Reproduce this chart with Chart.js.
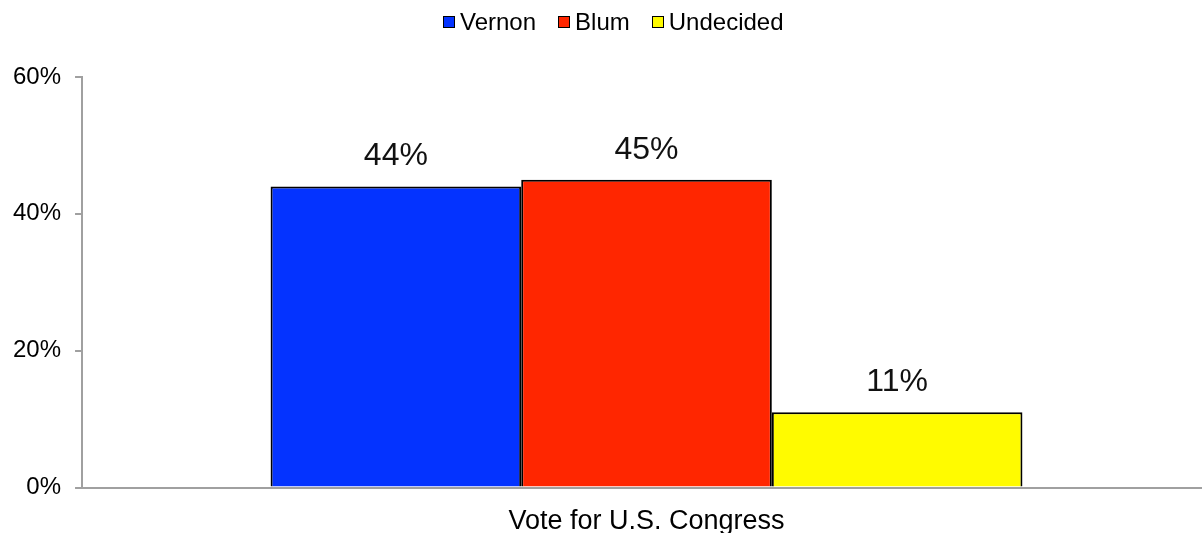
<!DOCTYPE html>
<html lang="en">
<head>
    <meta charset="UTF-8">
    <title>Vote for U.S. Congress</title>
    <script src="https://cdn.jsdelivr.net/npm/chart.js"></script>
    <style>
        * { margin: 0; padding: 0; box-sizing: border-box; }
        body { background: #fff; width: 1202px; height: 533px; overflow: hidden;
               font-family: 'Liberation Sans', Arial, Helvetica, sans-serif; }
        #wrap { position: relative; width: 1202px; height: 533px; overflow: hidden; }
        /* legend drawn as html so the box/text gap can match */
        #legend { position: absolute; top: 8px; left: 443px; display: flex; align-items: center;
                  font-size: 24px; line-height: 28px; color: #000; }
        #legend .item { display: flex; align-items: center; margin-right: 22px; }
        #legend .box { width: 12px; height: 12px; border: 1px solid #000; margin-right: 5px; }
    </style>
</head>
<body>
    <div id="wrap">
        <canvas id="chart" width="1202" height="533"></canvas>
        <div id="legend"></div>
    </div>

    <script>
        // chart data
        const categories = ['Vote for U.S. Congress'];
        const seriesNames = ['Vernon', 'Blum', 'Undecided'];
        const seriesValues = [[44], [45], [11]];
        const seriesColors = ['#0433FF', '#FF2600', '#FFFB00'];
        const yTicks = [0, 20, 40, 60];

        const FONT = "'Liberation Sans', Arial, Helvetica, sans-serif";

        // legend
        const legend = document.getElementById('legend');
        seriesNames.forEach((name, i) => {
            const item = document.createElement('div');
            item.className = 'item';
            item.innerHTML = '<span class="box" style="background:' + seriesColors[i] + '"></span><span>' + name + '</span>';
            legend.appendChild(item);
        });

        // the x axis in the original runs a little past the right edge
        const extendX = {
            id: 'extendX',
            afterLayout(chart) {
                const x = chart.scales.x;
                x.right += 9;
                x.width += 9;
                x.configure();
            }
        };

        // draws the value above each bar
        const valueLabels = {
            id: 'valueLabels',
            afterDatasetsDraw(chart) {
                const ctx = chart.ctx;
                ctx.save();
                ctx.font = '32px ' + FONT;
                ctx.fillStyle = '#111';
                ctx.textAlign = 'center';
                ctx.textBaseline = 'alphabetic';
                chart.data.datasets.forEach((ds, i) => {
                    chart.getDatasetMeta(i).data.forEach((bar, j) => {
                        ctx.fillText(ds.data[j] + '%', bar.x, bar.y - 21);
                    });
                });
                ctx.restore();
            }
        };

        const ctx = document.getElementById('chart').getContext('2d');
        const chart = new Chart(ctx, {
            type: 'bar',
            data: {
                labels: categories,
                datasets: seriesNames.map((name, i) => ({
                    label: name,
                    data: seriesValues[i],
                    backgroundColor: seriesColors[i],
                    borderColor: '#000',
                    borderWidth: 2,
                    categoryPercentage: 0.666,
                    barPercentage: 1
                }))
            },
            options: {
                responsive: false,
                animation: false,
                devicePixelRatio: 1,
                layout: { padding: { left: -1, right: 0, top: 77, bottom: -15 } },
                scales: {
                    x: {
                        grid: { display: false },
                        border: { color: '#a0a0a0', width: 2 },
                        ticks: { color: '#000', font: { family: FONT, size: 27 }, padding: 10 }
                    },
                    y: {
                        min: 0,
                        max: 60,
                        afterBuildTicks: axis => { axis.ticks = yTicks.map(v => ({ value: v })); },
                        grid: { drawOnChartArea: false, drawTicks: true, tickLength: 7, color: '#a0a0a0', lineWidth: 2 },
                        border: { color: '#a0a0a0', width: 2 },
                        ticks: {
                            color: '#000',
                            font: { family: FONT, size: 24 },
                            padding: 14,
                            callback: v => v + '%'
                        }
                    }
                },
                plugins: {
                    legend: { display: false },
                    tooltip: { enabled: false }
                }
            },
            plugins: [extendX, valueLabels]
        });
    </script>
</body>
</html>
